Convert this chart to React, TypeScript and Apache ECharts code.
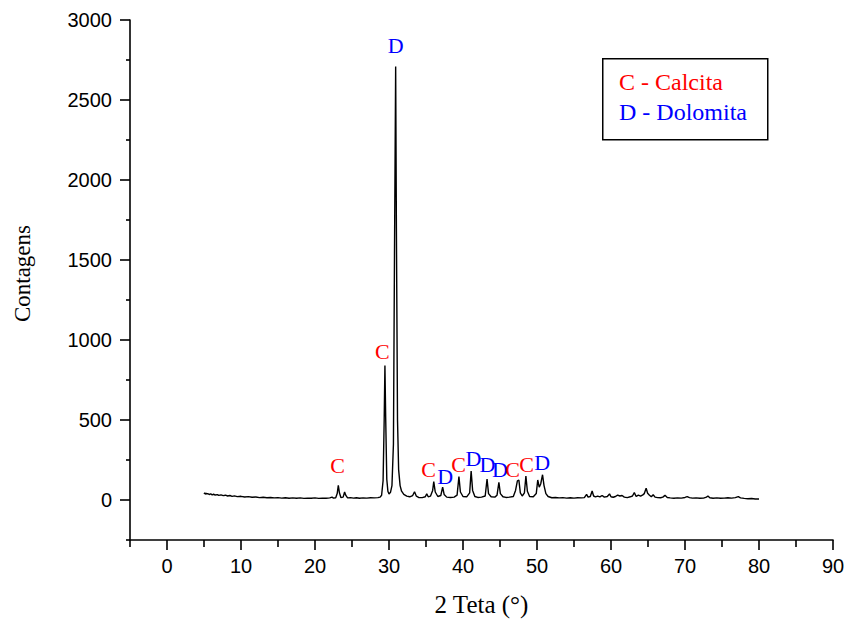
import React, { useEffect, useRef } from "react";
import * as echarts from "echarts";

// 2θ (degrees) and counts
const pattern: [number, number][] = [
  [5.0, 38], [5.1, 44], [5.2, 36], [5.3, 42], [5.4, 37], [5.5, 41], [5.7, 34], [5.9, 39],
  [6.1, 32], [6.3, 36], [6.5, 31], [6.8, 34], [7.0, 29], [7.3, 32], [7.6, 27], [7.9, 30],
  [8.2, 25], [8.5, 28], [8.8, 23], [9.1, 26], [9.5, 21], [10.0, 23], [10.5, 19], [11.0, 21],
  [11.5, 17], [12.0, 19], [12.5, 15], [13.0, 17], [13.5, 14], [14.0, 16], [14.5, 13], [15.0, 15],
  [15.5, 12], [16.0, 14], [16.5, 11], [17.0, 13], [17.5, 11], [18.0, 13], [18.5, 10], [19.0, 12],
  [19.5, 11], [20.0, 13], [20.5, 10], [21.0, 12], [21.5, 11], [22.0, 13], [22.3, 18], [22.5, 12],
  [22.8, 14], [23.0, 40], [23.15, 92], [23.3, 45], [23.5, 16], [23.8, 18], [24.0, 50], [24.15, 30],
  [24.4, 13], [24.8, 15], [25.2, 12], [25.6, 14], [26.0, 11], [26.5, 13], [27.0, 12], [27.5, 14],
  [28.0, 13], [28.5, 15], [28.8, 18], [29.0, 30], [29.2, 120], [29.35, 500], [29.45, 840], [29.55, 520],
  [29.7, 130], [29.85, 55], [30.0, 38], [30.2, 48], [30.4, 90], [30.6, 350], [30.75, 1600], [30.9, 2710],
  [31.0, 1700], [31.15, 500], [31.3, 190], [31.5, 90], [31.7, 55], [32.0, 35], [32.4, 24], [32.8, 20],
  [33.2, 28], [33.45, 52], [33.7, 24], [34.0, 16], [34.5, 15], [34.9, 20], [35.1, 38], [35.3, 20],
  [35.6, 24], [35.9, 60], [36.05, 115], [36.25, 50], [36.6, 22], [37.0, 28], [37.25, 81], [37.45, 35],
  [37.8, 18], [38.3, 16], [38.8, 18], [39.2, 30], [39.45, 146], [39.65, 50], [40.0, 22], [40.5, 20],
  [40.9, 45], [41.1, 181], [41.3, 60], [41.6, 22], [42.0, 16], [42.5, 18], [43.0, 25], [43.25, 131],
  [43.45, 40], [43.8, 20], [44.3, 18], [44.6, 30], [44.85, 110], [45.05, 40], [45.4, 20], [45.8, 16],
  [46.3, 18], [46.8, 22], [47.1, 60], [47.35, 120], [47.55, 125], [47.75, 45], [48.0, 25], [48.3, 45],
  [48.5, 150], [48.7, 55], [49.0, 22], [49.5, 20], [49.9, 40], [50.1, 125], [50.3, 80], [50.5, 100],
  [50.75, 158], [50.95, 90], [51.2, 40], [51.5, 22], [52.0, 14], [52.5, 16], [53.0, 13], [53.5, 15],
  [54.0, 12], [54.5, 14], [55.0, 12], [55.5, 14], [56.0, 13], [56.4, 15], [56.7, 35], [56.9, 18],
  [57.2, 22], [57.45, 56], [57.65, 25], [57.9, 20], [58.2, 24], [58.5, 19], [58.8, 28], [59.1, 18],
  [59.5, 22], [59.8, 38], [60.0, 20], [60.3, 17], [60.6, 22], [60.9, 31], [61.2, 25], [61.5, 28],
  [61.8, 18], [62.2, 15], [62.6, 20], [62.9, 25], [63.15, 46], [63.4, 22], [63.7, 30], [64.0, 24],
  [64.3, 32], [64.5, 40], [64.75, 73], [64.95, 42], [65.2, 30], [65.45, 20], [65.7, 33], [65.95, 18],
  [66.3, 15], [66.7, 14], [67.0, 18], [67.3, 29], [67.6, 16], [68.0, 13], [68.5, 11], [69.0, 13],
  [69.5, 12], [70.0, 16], [70.3, 21], [70.6, 15], [71.0, 12], [71.5, 13], [72.0, 11], [72.5, 12],
  [72.9, 18], [73.1, 25], [73.35, 14], [73.8, 11], [74.3, 13], [74.8, 11], [75.3, 12], [75.8, 14],
  [76.3, 12], [76.8, 15], [77.2, 21], [77.5, 13], [78.0, 10], [78.5, 8], [79.0, 9], [79.5, 6], [80.0, 6],
];

// Phase annotations: letter, 2θ, counts position of the label
const peakLetters = ["C", "C", "D", "C", "D", "C", "D", "D", "D", "C", "C", "D"];
const peakLabelX = [23.05, 29.1, 30.9, 35.35, 37.6, 39.4, 41.4, 43.3, 45.0, 46.7, 48.6, 50.7];
const peakLabelY = [214, 931, 2838, 192, 150, 223, 260, 219, 188, 188, 223, 236];

const xMajorTicks = [0, 10, 20, 30, 40, 50, 60, 70, 80, 90];
const xMinorTicks = [-5, 5, 15, 25, 35, 45, 55, 65, 75, 85];
const yMajorTicks = [0, 500, 1000, 1500, 2000, 2500, 3000];
const yMinorTicks = [-250, 250, 750, 1250, 1750, 2250, 2750];

const legendItems = ["C - Calcita", "D - Dolomita"];

const RED = "#ff0000";
const BLUE = "#0000ff";
const SERIF = "'Liberation Serif', 'Times New Roman', serif";
const SANS = "'Liberation Sans', Arial, sans-serif";

export default function App() {
  const ref = useRef<HTMLDivElement>(null);

  useEffect(() => {
    if (!ref.current) return;
    const chart = echarts.init(ref.current, null, { renderer: "svg" });

    const axisCommon = {
      type: "value" as const,
      splitLine: { show: false },
    };

    chart.setOption({
      animation: false,
      backgroundColor: "#ffffff",
      grid: { left: 130, top: 20, right: 15, bottom: 83, containLabel: false, outerBoundsMode: "none" },
      xAxis: [
        {
          ...axisCommon,
          min: -5,
          max: 90,
          position: "bottom",
          name: "2 Teta (°)",
          nameLocation: "middle",
          nameGap: 52,
          nameTextStyle: { fontFamily: SERIF, fontSize: 25, color: "#000" },
          axisLine: { show: true, onZero: false, lineStyle: { color: "#000", width: 1.6 } },
          axisTick: { show: true, inside: false, length: 10, customValues: xMajorTicks, lineStyle: { color: "#000", width: 1.6 } },
          axisLabel: {
            show: true,
            customValues: xMajorTicks,
            margin: 16,
            fontFamily: SANS,
            fontSize: 20,
            color: "#000",
            hideOverlap: false,
            showMaxLabel: true,
            formatter: (v: number) => String(v),
          },
        },
        {
          ...axisCommon,
          min: -5,
          max: 90,
          position: "bottom",
          axisLine: { show: false, onZero: false },
          axisTick: { show: true, length: 7, customValues: xMinorTicks, lineStyle: { color: "#000", width: 1.6 } },
          axisLabel: { show: false },
        },
      ],
      yAxis: [
        {
          ...axisCommon,
          min: -250,
          max: 3000,
          position: "left",
          axisLine: { show: true, onZero: false, lineStyle: { color: "#000", width: 1.6 } },
          axisTick: { show: true, length: 10, customValues: yMajorTicks, lineStyle: { color: "#000", width: 1.6 } },
          axisLabel: {
            show: true,
            customValues: yMajorTicks,
            margin: 18,
            fontFamily: SANS,
            fontSize: 20,
            color: "#000",
            formatter: (v: number) => String(v),
          },
        },
        {
          ...axisCommon,
          min: -250,
          max: 3000,
          position: "left",
          axisLine: { show: false, onZero: false },
          axisTick: { show: true, length: 4, customValues: yMinorTicks, lineStyle: { color: "#000", width: 1.6 } },
          axisLabel: { show: false },
        },
      ],
      series: [
        {
          type: "line",
          xAxisIndex: 0,
          yAxisIndex: 0,
          data: pattern,
          showSymbol: false,
          symbol: "none",
          lineStyle: { color: "#000", width: 1.4 },
          z: 2,
        },
        {
          type: "scatter",
          xAxisIndex: 0,
          yAxisIndex: 0,
          symbolSize: 0,
          itemStyle: { opacity: 1 },
          data: peakLetters.map((l, i) => ({
            name: l,
            value: [peakLabelX[i], peakLabelY[i]],
            label: { color: l === "C" ? RED : BLUE },
          })),
          label: {
            show: true,
            position: "inside",
            formatter: "{b}",
            fontFamily: SERIF,
            fontSize: 22,
            opacity: 1,
          },
          z: 3,
        },
      ],
      graphic: [
        {
          type: "text",
          left: 11,
          top: 225,
          rotation: Math.PI / 2,
          style: { text: "Contagens", fill: "#000", font: `23px ${SERIF}` },
          z: 11,
        },
        {
          type: "rect",
          left: 602,
          top: 58,
          shape: { width: 165, height: 81 },
          style: { fill: "#fff", stroke: "#000", lineWidth: 1.5 },
          z: 10,
        },
        {
          type: "text",
          left: 619,
          top: 70,
          style: { text: legendItems[0], fill: RED, font: `24px ${SERIF}` },
          z: 11,
        },
        {
          type: "text",
          left: 619,
          top: 100,
          style: { text: legendItems[1], fill: BLUE, font: `24px ${SERIF}` },
          z: 11,
        },
      ],
    });

    return () => chart.dispose();
  }, []);

  return (
    <div
      ref={ref}
      style={{ position: "absolute", left: 0, top: 0, width: 848, height: 623 }}
    />
  );
}
